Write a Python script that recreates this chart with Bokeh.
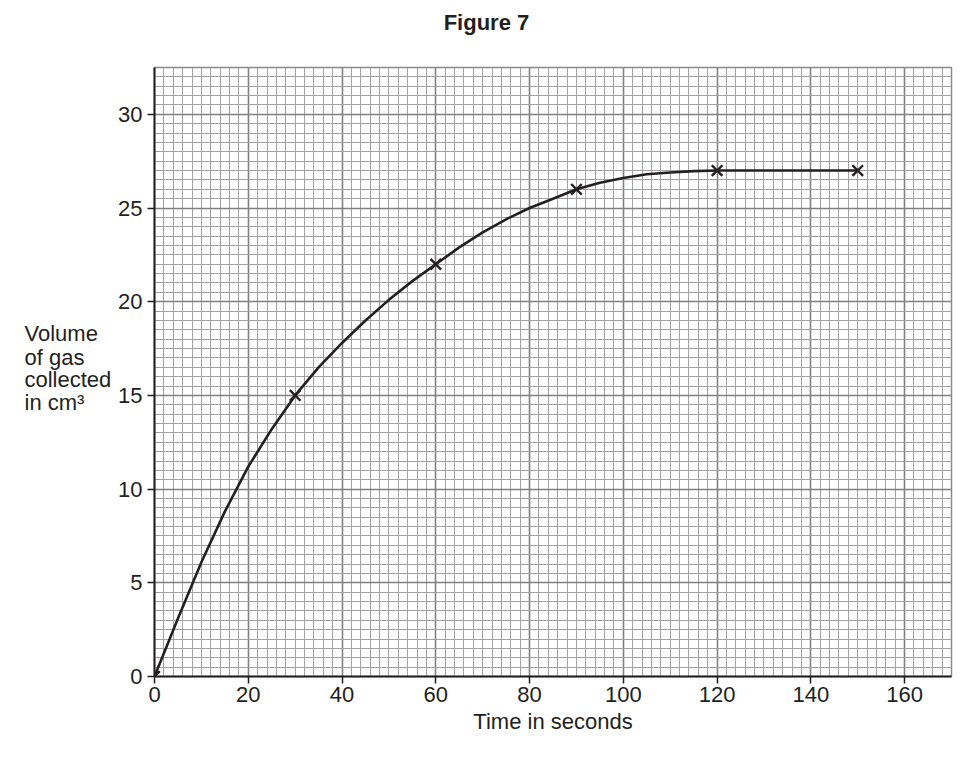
from bokeh.plotting import figure
from bokeh.models import Range1d, SingleIntervalTicker
from bokeh.layouts import row, column
from bokeh.core.properties import value
from bokeh.embed import file_html
from bokeh.resources import INLINE

# Measured points (crosses)
time_s = [0, 30, 60, 90, 120, 150]
volume_cm3 = [0, 15, 22, 26, 27, 27]

# Curve of best fit
curve_time = [0, 5, 10, 15, 20, 25, 30, 35, 40, 45, 50, 55, 60, 65, 70, 75,
              80, 85, 90, 95, 100, 105, 110, 115, 120, 150]
curve_volume = [0, 3.1, 6.1, 8.8, 11.2, 13.2, 15.0, 16.5, 17.8, 19.0, 20.1, 21.1,
                22.0, 22.9, 23.7, 24.4, 25.0, 25.5, 26.0, 26.35, 26.6, 26.8,
                26.9, 26.97, 27.0, 27.0]

title_text = "Figure 7"
x_label = "Time in seconds"
y_label_lines = ["Volume", "of gas", "collected", "in cm\u00b3"]

INK = "#231f20"
FONT = "Liberation Sans"
W, H = 976, 757
LEFT_W = 115
TITLE_H = 45
TOP, BOTTOM = 67 - TITLE_H, 81
BODY_H = H - TITLE_H

x_range = Range1d(0, 170)
y_range = Range1d(0, 32.5)


def plain(fig):
    fig.grid.visible = False
    fig.outline_line_color = None
    fig.background_fill_color = "white"
    fig.border_fill_color = "white"


# ---- title strip ----
top = figure(width=W, height=TITLE_H, output_backend="svg", toolbar_location=None,
             x_range=x_range, y_range=Range1d(0, TITLE_H),
             min_border_left=154, min_border_right=25,
             min_border_top=0, min_border_bottom=0,
             x_axis_type=None, y_axis_type=None)
plain(top)
top.text(x=[70.8], y=[TITLE_H - 22], text=[title_text],
         text_font=value(FONT), text_font_size=value("22px"),
         text_font_style="bold", text_color=INK,
         text_align="center", text_baseline="middle")

# ---- main chart ----
p = figure(width=W - LEFT_W, height=BODY_H, output_backend="svg",
           toolbar_location=None, x_range=x_range, y_range=y_range,
           min_border_left=154 - LEFT_W, min_border_right=25,
           min_border_top=TOP, min_border_bottom=BOTTOM)

p.outline_line_color = "#8a8a8a"
p.outline_line_width = 1.5
p.background_fill_color = "white"
p.border_fill_color = "white"

xt = SingleIntervalTicker(interval=20, num_minor_ticks=10)
yt = SingleIntervalTicker(interval=5, num_minor_ticks=10)
p.xaxis.ticker = xt
p.yaxis.ticker = yt
p.xgrid.ticker = xt
p.ygrid.ticker = yt

for g in (p.xgrid, p.ygrid):
    g.grid_line_color = "#808080"
    g.grid_line_width = 1.6
    g.minor_grid_line_color = "#a2a2a2"
    g.minor_grid_line_width = 1.0

for ax in (p.xaxis, p.yaxis):
    ax.axis_line_color = INK
    ax.axis_line_width = 2
    ax.major_tick_line_color = INK
    ax.major_tick_line_width = 1.5
    ax.major_tick_out = 7
    ax.major_tick_in = 0
    ax.minor_tick_line_color = None
    ax.major_label_text_font = FONT
    ax.major_label_text_font_size = "22px"
    ax.major_label_text_color = INK
    ax.axis_label_text_font = FONT
    ax.axis_label_text_font_style = "normal"
    ax.axis_label_text_font_size = "22px"
    ax.axis_label_text_color = INK

p.xaxis.major_label_standoff = 3
p.yaxis.major_label_standoff = 5
p.xaxis.axis_label = x_label
p.xaxis.axis_label_standoff = 4

p.line(curve_time, curve_volume, line_color=INK, line_width=2.6)
p.scatter(time_s, volume_cm3, marker="x", size=15, line_color=INK, line_width=2.4)

# ---- left strip holding the horizontal, left-aligned y-axis caption ----
lab = figure(width=LEFT_W, height=BODY_H, output_backend="svg", toolbar_location=None,
             x_range=Range1d(0, LEFT_W), y_range=y_range,
             min_border_left=0, min_border_right=0,
             min_border_top=TOP, min_border_bottom=BOTTOM,
             x_axis_type=None, y_axis_type=None)
plain(lab)
# caption baselines, in the chart's own y units
caption_y = [18.28, 17.05, 15.83, 14.61]
lab.text(x=[24] * len(y_label_lines), y=caption_y, text=y_label_lines,
         text_font=value(FONT), text_font_size=value("22px"), text_color=INK,
         text_align="left", text_baseline="alphabetic")

layout = column(top, row(lab, p, spacing=0), spacing=0)
open("out.html", "w").write(file_html(layout, INLINE))
